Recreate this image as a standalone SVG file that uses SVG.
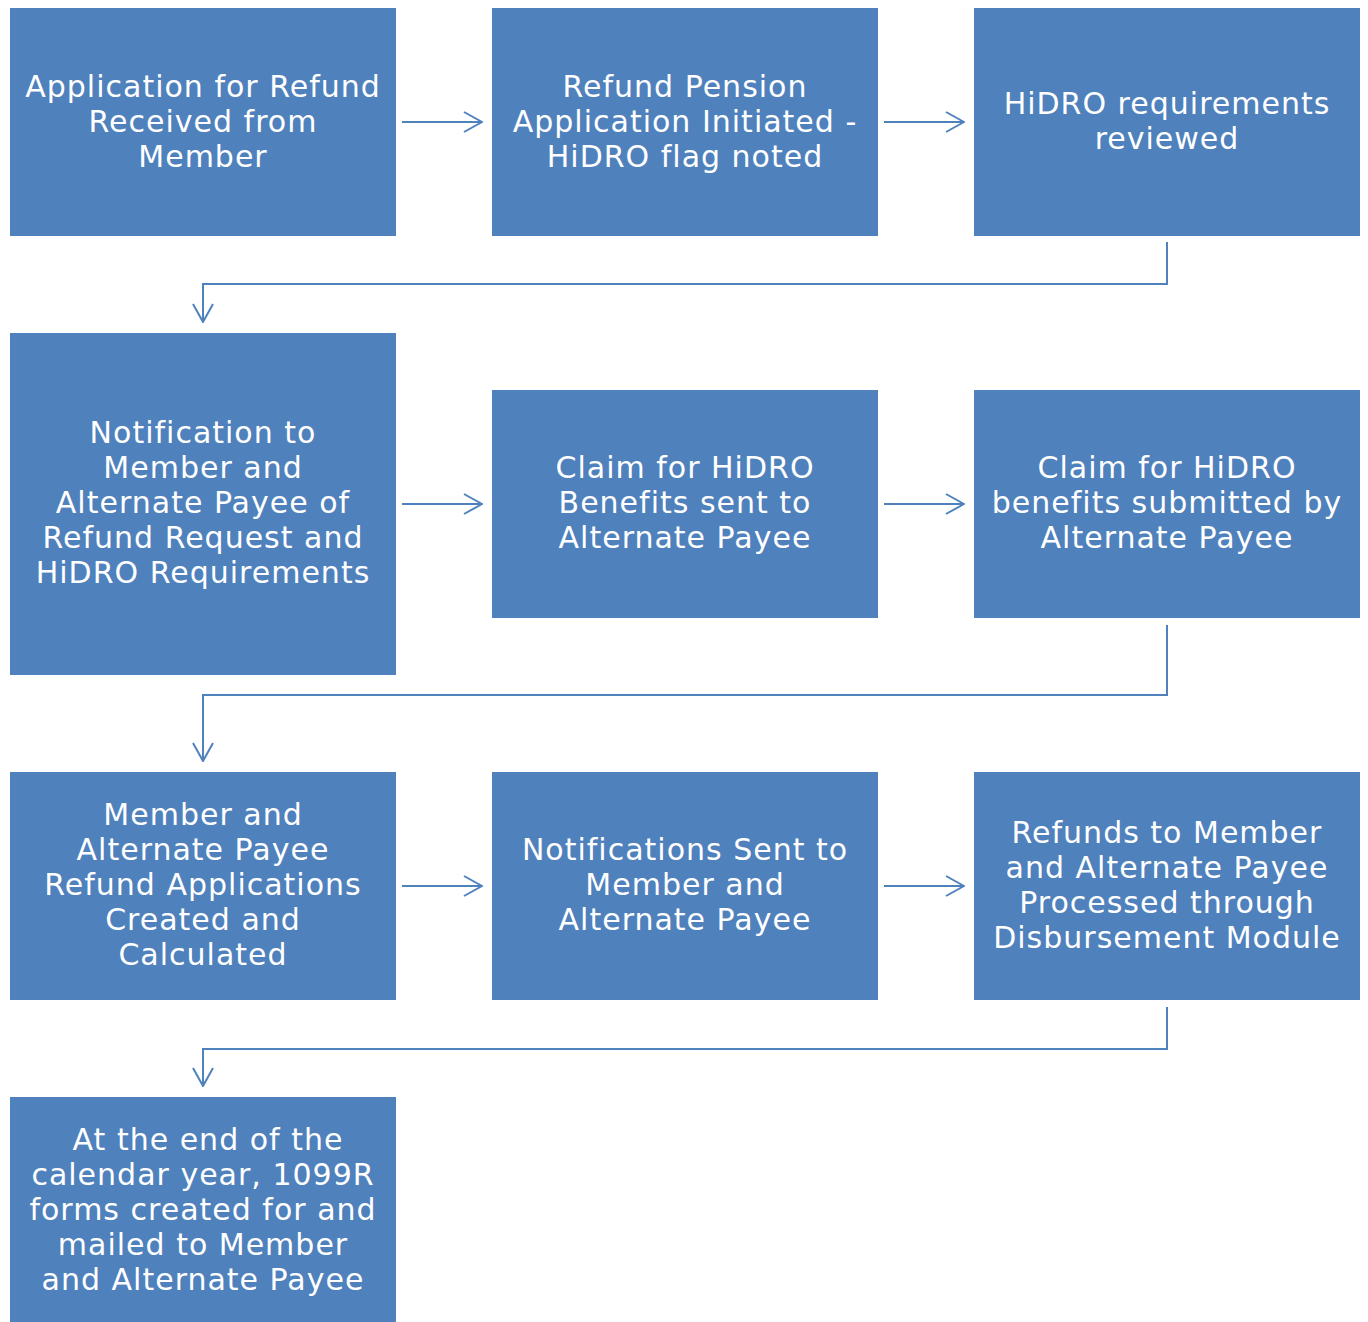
<svg xmlns="http://www.w3.org/2000/svg" width="1368" height="1322" viewBox="0 0 1368 1322">
<defs>
<style>
.box{fill:#4F81BD;}
.t{font-family:"DejaVu Sans","Verdana",sans-serif;font-size:30px;letter-spacing:1px;fill:#FFFFFF;text-anchor:middle;}
.c{fill:none;stroke:#4F81BD;stroke-width:2;}
</style>
<marker id="ah" viewBox="0 0 20 22" refX="19" refY="11" markerWidth="20" markerHeight="22" markerUnits="userSpaceOnUse" orient="auto">
<path d="M1,1 L19,11 L1,21" fill="none" stroke="#4F81BD" stroke-width="2"/>
</marker>
</defs>
<rect width="1368" height="1322" fill="#FFFFFF"/>
<g id="connectors">
<path class="c" d="M402,122 H482" marker-end="url(#ah)"/>
<path class="c" d="M884,122 H964" marker-end="url(#ah)"/>
<path class="c" d="M1167,242 V284 H203 V322" marker-end="url(#ah)"/>
<path class="c" d="M402,504 H482" marker-end="url(#ah)"/>
<path class="c" d="M884,504 H964" marker-end="url(#ah)"/>
<path class="c" d="M1167,625 V695 H203 V761" marker-end="url(#ah)"/>
<path class="c" d="M402,886 H482" marker-end="url(#ah)"/>
<path class="c" d="M884,886 H964" marker-end="url(#ah)"/>
<path class="c" d="M1167,1007 V1049 H203 V1086" marker-end="url(#ah)"/>
</g>
<g id="n1"><rect class="box" x="10" y="8" width="386" height="228"/>
<text class="t"><tspan x="203" y="96.5">Application for Refund</tspan><tspan x="203" y="131.5">Received from</tspan><tspan x="203" y="166.5">Member</tspan></text></g>
<g id="n2"><rect class="box" x="492" y="8" width="386" height="228"/>
<text class="t"><tspan x="685" y="96.5">Refund Pension</tspan><tspan x="685" y="131.5">Application Initiated -</tspan><tspan x="685" y="166.5">HiDRO flag noted</tspan></text></g>
<g id="n3"><rect class="box" x="974" y="8" width="386" height="228"/>
<text class="t"><tspan x="1167" y="113.5">HiDRO requirements</tspan><tspan x="1167" y="148.5">reviewed</tspan></text></g>
<g id="n4"><rect class="box" x="10" y="333" width="386" height="342"/>
<text class="t"><tspan x="203" y="443">Notification to</tspan><tspan x="203" y="478">Member and</tspan><tspan x="203" y="513">Alternate Payee of</tspan><tspan x="203" y="548">Refund Request and</tspan><tspan x="203" y="583">HiDRO Requirements</tspan></text></g>
<g id="n5"><rect class="box" x="492" y="390" width="386" height="228"/>
<text class="t"><tspan x="685" y="478">Claim for HiDRO</tspan><tspan x="685" y="513">Benefits sent to</tspan><tspan x="685" y="548">Alternate Payee</tspan></text></g>
<g id="n6"><rect class="box" x="974" y="390" width="386" height="228"/>
<text class="t"><tspan x="1167" y="478">Claim for HiDRO</tspan><tspan x="1167" y="513">benefits submitted by</tspan><tspan x="1167" y="548">Alternate Payee</tspan></text></g>
<g id="n7"><rect class="box" x="10" y="772" width="386" height="228"/>
<text class="t"><tspan x="203" y="825">Member and</tspan><tspan x="203" y="860">Alternate Payee</tspan><tspan x="203" y="895">Refund Applications</tspan><tspan x="203" y="930">Created and</tspan><tspan x="203" y="965">Calculated</tspan></text></g>
<g id="n8"><rect class="box" x="492" y="772" width="386" height="228"/>
<text class="t"><tspan x="685" y="860">Notifications Sent to</tspan><tspan x="685" y="895">Member and</tspan><tspan x="685" y="930">Alternate Payee</tspan></text></g>
<g id="n9"><rect class="box" x="974" y="772" width="386" height="228"/>
<text class="t"><tspan x="1167" y="842.5">Refunds to Member</tspan><tspan x="1167" y="877.5">and Alternate Payee</tspan><tspan x="1167" y="912.5">Processed through</tspan><tspan x="1167" y="947.5">Disbursement Module</tspan></text></g>
<g id="n10"><rect class="box" x="10" y="1097" width="386" height="230"/>
<text class="t"><tspan x="208" y="1150">At the end of the</tspan><tspan x="203" y="1185">calendar year, 1099R</tspan><tspan x="203" y="1220">forms created for and</tspan><tspan x="203" y="1255">mailed to Member</tspan><tspan x="203" y="1290">and Alternate Payee</tspan></text></g>
</svg>
